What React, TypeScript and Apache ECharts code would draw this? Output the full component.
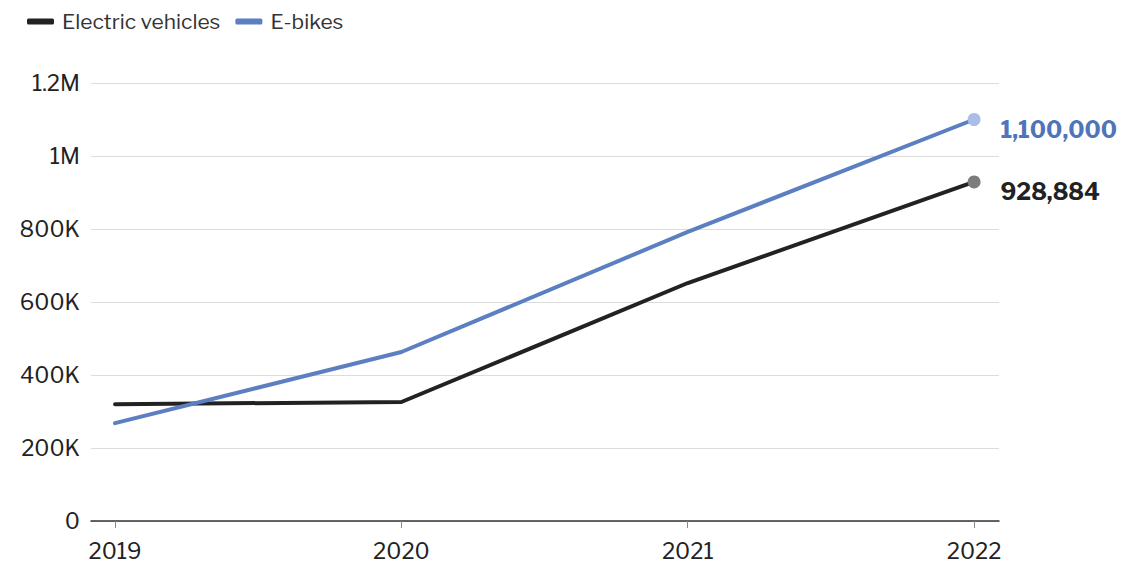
import React, { useEffect, useRef } from "react";
import * as echarts from "echarts";

const years = [2019, 2020, 2021, 2022];
const electricVehicles = [320000, 326000, 652000, 928884];
const eBikes = [268000, 463000, 792000, 1100000];
const yTicks = [0, 200000, 400000, 600000, 800000, 1000000, 1200000];

const FONT = "'Libre Franklin', Roboto, 'Liberation Sans', sans-serif";

const fmtAxis = (v: number) => {
  if (v === 0) return "0";
  if (v >= 1000000) return `${v / 1000000}M`;
  return `${v / 1000}K`;
};

const fmtFull = (v: number) => v.toLocaleString("en-US");

function buildSeries(
  name: string,
  values: number[],
  lineColor: string,
  dotColor: string,
  labelColor: string
) {
  const last = values.length - 1;
  return {
    name,
    type: "line",
    symbol: "none",
    color: lineColor,
    lineStyle: { width: 4, color: lineColor, cap: "round", join: "round" },
    data: values.map((v, i) =>
      i === last
        ? {
            value: [years[i], v],
            symbol: "circle",
            symbolSize: 13,
            itemStyle: { color: dotColor },
            label: {
              show: true,
              position: "right",
              distance: 20,
              offset: [0, 10],
              formatter: () => fmtFull(v),
              color: labelColor,
              fontFamily: FONT,
              fontWeight: "bold",
              fontSize: 23,
            },
          }
        : { value: [years[i], v] }
    ),
  };
}

export default function App() {
  const ref = useRef<HTMLDivElement>(null);

  useEffect(() => {
    if (!ref.current) return;
    const chart = echarts.init(ref.current, null, { renderer: "svg" });
    chart.setOption({
      animation: false,
      backgroundColor: "#ffffff",
      textStyle: { fontFamily: FONT },
      legend: {
        left: 22,
        top: 6,
        icon: "roundRect",
        itemWidth: 27,
        itemHeight: 6,
        itemGap: 15,
        textStyle: { fontSize: 21, color: "#333", fontFamily: FONT, padding: [0, 0, 0, 3] },
        data: ["Electric vehicles", "E-bikes"],
      },
      grid: { left: 91, right: 146, top: 83, bottom: 46, containLabel: false },
      xAxis: {
        type: "value",
        min: 2018.916,
        max: 2022.087,
        splitLine: { show: false },
        axisLine: { show: true, lineStyle: { color: "#333", width: 1.5 } },
        axisTick: {
          show: true,
          customValues: years,
          length: 7,
          lineStyle: { color: "#888", width: 1 },
        },
        axisLabel: {
          customValues: years,
          formatter: (v: number) => String(v),
          margin: 19,
          fontSize: 22,
          color: "#222",
          fontFamily: FONT,
        },
      },
      yAxis: {
        type: "value",
        min: yTicks[0],
        max: yTicks[yTicks.length - 1],
        interval: 200000,
        axisLine: { show: false },
        axisTick: { show: false },
        splitLine: { lineStyle: { color: "#dcdcdc", width: 1 } },
        axisLabel: {
          formatter: fmtAxis,
          margin: 11,
          fontSize: 22,
          color: "#222",
          fontFamily: FONT,
        },
      },
      series: [
        buildSeries("Electric vehicles", electricVehicles, "#222222", "#7d7d7d", "#222222"),
        buildSeries("E-bikes", eBikes, "#5b7fc1", "#a9bde6", "#4f74b9"),
      ],
    });
    return () => chart.dispose();
  }, []);

  return (
    <div
      ref={ref}
      style={{ position: "fixed", left: 0, top: 0, width: 1145, height: 567 }}
    />
  );
}
